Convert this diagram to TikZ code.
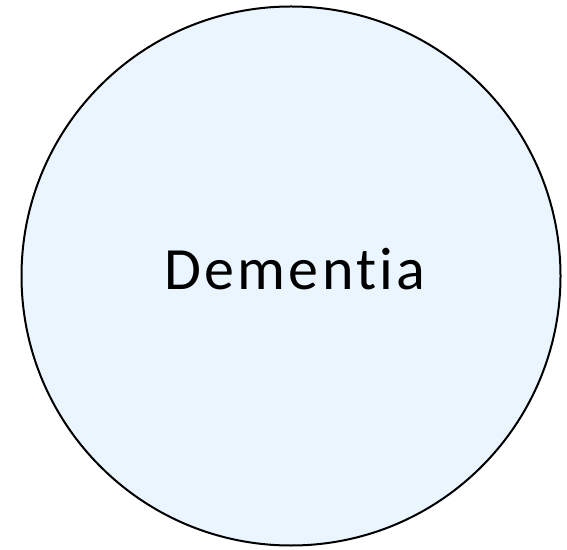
\documentclass[tikz,border=0pt]{standalone}
\usepackage{fontspec}
\setmainfont{Carlito}[Ligatures=NoCommon]
\usetikzlibrary{positioning}
\definecolor{dementiafill}{HTML}{EAF5FF}
\tikzset{
  topicbubble/.style={draw, circle, line width=2pt, fill=dementiafill,
    minimum size=539pt, inner sep=0pt},
  topiclabel/.style={font=\fontsize{60}{70}\selectfont\addfontfeature{LetterSpace=5.5},
    inner sep=0pt}
}

\begin{document}
\begin{tikzpicture}[x=1pt, y=1pt]
    \useasboundingbox (0,0) rectangle (567,549);
    \node[topicbubble] (dementia) at (291,273) {};
    \node[topiclabel, anchor=base] (dementialabel) at (295,259) {Dementia};
  \end{tikzpicture}
\end{document}
